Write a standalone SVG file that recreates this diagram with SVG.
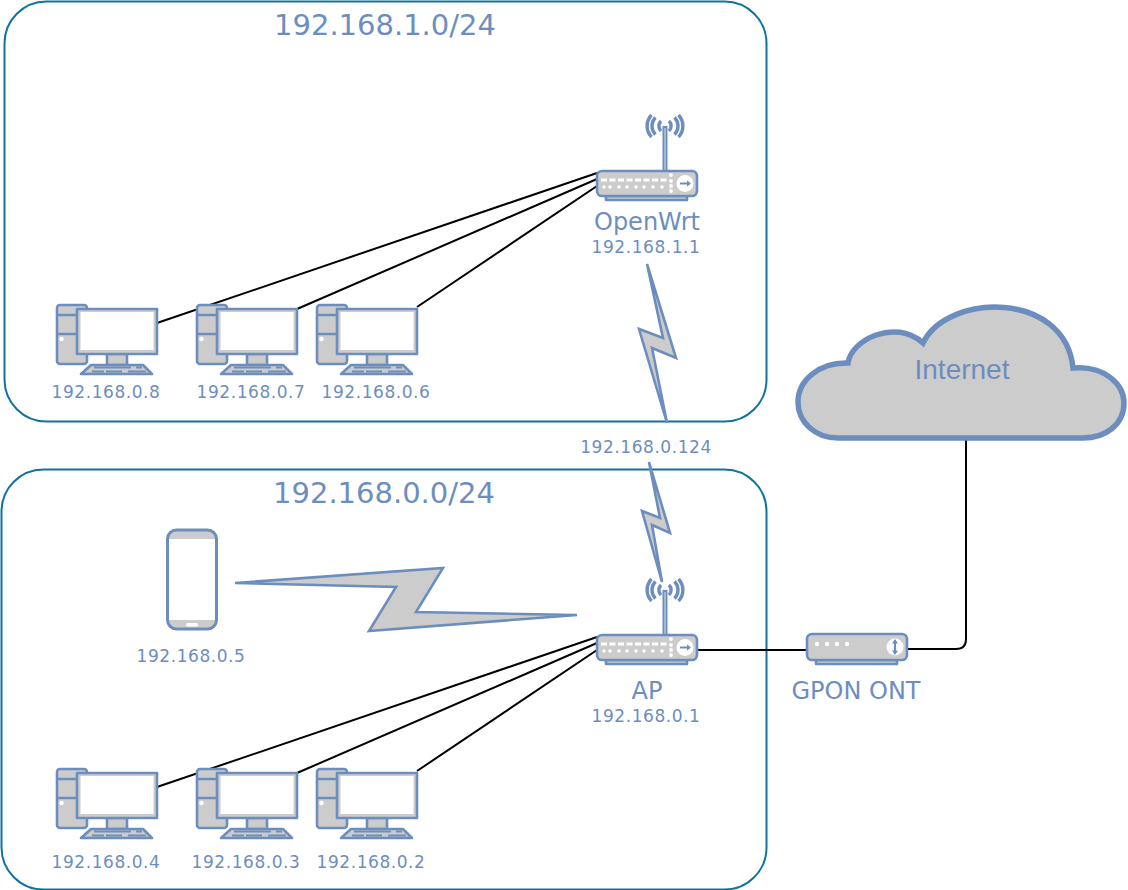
<svg xmlns="http://www.w3.org/2000/svg" width="1128" height="890" viewBox="0 0 1128 890">
<style>
text{fill:#6c8ebf;font-family:"DejaVu Sans",Verdana,sans-serif;text-anchor:middle}
.ip{font-size:17px;letter-spacing:.55px}
.title{font-size:29px}
.name{font-size:24px}
.zone{fill:#fff;stroke:#10739e;stroke-width:2}
.g{fill:#ccc;stroke:#6c8ebf;stroke-width:2.600;stroke-linejoin:round}
.w{fill:#fff;stroke:none}
.b{fill:none;stroke:#6c8ebf}
.bolt{fill:#ccc;stroke:#6c8ebf;stroke-width:2.600}
.wire{fill:none;stroke:#000;stroke-width:2}
</style>
<defs>
<g id="pc">
<rect class="g" x="57" y="305" width="30" height="59" rx="3"/>
<path class="b" stroke-width="2.500" d="M57 315H77M57 334H77"/>
<circle class="w" cx="61.500" cy="339" r="2.200"/>
<path class="g" d="M107 354h20v11h-20z"/>
<path class="g" d="M91 365h52l9 9H81z"/>
<path class="b" stroke-width="2.200" d="M94 367.500H131M136 367.500H142M92 371.500H104M106 371.500H122M128 371.500H146"/>
<rect class="g" x="77" y="309" width="80" height="45"/>
<rect x="79" y="311" width="76" height="41" fill="#ccc"/>
<rect class="w" x="80.500" y="312" width="73" height="38"/>
</g>
<g id="router">
<path class="g" d="M606 196h81v4h-81z"/>
<rect x="662.500" y="126" width="5" height="45" fill="#6c8ebf"/>
<rect x="664.300" y="128" width="1.400" height="43" fill="#b9c9e2"/>
<g class="b" stroke-width="3.400">
<path d="M661 121a7 7 0 0 0 0 10M669 121a7 7 0 0 1 0 10"/>
<path d="M655.500 117.500a12 12 0 0 0 0 17M674.500 117.500a12 12 0 0 1 0 17"/>
<path d="M651.500 115a16 16 0 0 0 0 22M678.500 115a16 16 0 0 1 0 22"/>
</g>
<rect class="g" x="597" y="171" width="100" height="25" rx="5"/>
<path d="M601 178.500h6v3h-6zM609.500 178.500h6v3h-6zM618 178.500h6v3h-6zM626.500 178.500h6v3h-6zM635 178.500h6v3h-6zM643.500 178.500h6v3h-6zM652 178.500h6v3h-6zM660.500 178.500h6v3h-6z" fill="#fff"/>
<g class="w">
<circle cx="604" cy="187" r="1.800"/><circle cx="610" cy="187" r="1.800"/><circle cx="619" cy="187" r="1.800"/><circle cx="627" cy="187" r="1.800"/><circle cx="636" cy="187" r="1.800"/><circle cx="644" cy="187" r="1.800"/><circle cx="653" cy="187" r="1.800"/><circle cx="662" cy="187" r="1.800"/>
<circle cx="671" cy="175" r="1.900"/><circle cx="671" cy="181" r="1.900"/><circle cx="671" cy="186" r="1.900"/><circle cx="671" cy="191" r="1.900"/>
<circle cx="685" cy="183.500" r="8.500"/>
</g>
<path d="M680 183.500h9" stroke="#6c8ebf" stroke-width="2"/>
<path d="M691 183.500l-4-3v6z" fill="#6c8ebf"/>
</g>
</defs>
<g id="zone-top">
<rect class="zone" x="4.500" y="1.500" width="762" height="420" rx="42"/>
<text class="title" x="385" y="35">192.168.1.0/24</text>
</g>
<g id="zone-bottom">
<rect class="zone" x="1.500" y="469.500" width="765" height="420" rx="42"/>
<text class="title" x="384" y="503">192.168.0.0/24</text>
</g>
<g id="connectors">
<path class="wire" d="M157 323L597 173M297 309L597 179M417 307L597 186"/>
<path class="wire" d="M157 787L597 637M297 773L597 643M417 771L597 650"/>
<path class="wire" d="M697 650H807"/>
<path class="wire" d="M907 649H956q10 0 10-10V440"/>
</g>
<g id="cloud">
<path d="M848 363C851 340 895 318 923 343C947 293 1065 290 1073 368C1105 365 1124 385 1124 403C1124 425 1105 438 1083 438H838C815 438 798 422 798 402C798 380 820 362 848 363Z" fill="#ccc" stroke="#6c8ebf" stroke-width="5.500"/>
<text x="962" y="379" style="font-family:'Liberation Sans',Arial,sans-serif;font-size:28px">Internet</text>
</g>
<g id="openwrt">
<use href="#router"/>
<text class="name" x="647" y="230">OpenWrt</text>
<text class="ip" x="646" y="253">192.168.1.1</text>
</g>
<g id="ap">
<use href="#router" y="464"/>
<text class="name" x="647" y="699">AP</text>
<text class="ip" x="646" y="722">192.168.0.1</text>
</g>
<g id="ont">
<path class="g" d="M816 660h81v4h-81z"/>
<rect class="g" x="807" y="634" width="100" height="26" rx="5"/>
<circle class="w" cx="817" cy="644" r="2.200"/><circle class="w" cx="827" cy="644" r="2.200"/><circle class="w" cx="837" cy="644" r="2.200"/><circle class="w" cx="847" cy="644" r="2.200"/>
<circle class="w" cx="895" cy="647" r="8.500"/>
<path d="M895 641v12" stroke="#6c8ebf" stroke-width="2"/>
<path d="M895 639l-3 4.500h6zM895 655l-3-4.500h6z" fill="#6c8ebf"/>
<text class="name" x="856" y="699">GPON ONT</text>
</g>
<g id="phone">
<rect x="167.500" y="530" width="49" height="99" rx="9" fill="#ccc" stroke="#6c8ebf" stroke-width="3"/>
<rect class="w" x="169" y="539" width="46" height="81"/>
<rect class="w" x="186" y="623" width="12" height="3.500" rx="1.700"/>
<text class="ip" x="191" y="662">192.168.0.5</text>
</g>
<g id="pc8"><use href="#pc"/><text class="ip" x="106" y="398">192.168.0.8</text></g>
<g id="pc7"><use href="#pc" x="140"/><text class="ip" x="251" y="398">192.168.0.7</text></g>
<g id="pc6"><use href="#pc" x="260"/><text class="ip" x="376" y="398">192.168.0.6</text></g>
<g id="pc4"><use href="#pc" y="464"/><text class="ip" x="106" y="868">192.168.0.4</text></g>
<g id="pc3"><use href="#pc" x="140" y="464"/><text class="ip" x="246" y="868">192.168.0.3</text></g>
<g id="pc2"><use href="#pc" x="260" y="464"/><text class="ip" x="371" y="868">192.168.0.2</text></g>
<g id="bridge-label"><text class="ip" x="646" y="453">192.168.0.124</text></g>
<g id="wireless">
<path class="bolt" d="M647 264L663 338L639 329L667 423L652 348L676 358Z"/>
<path class="bolt" d="M649 462L670 533L652 525L662 582L642 511L660 518Z"/>
<path class="bolt" d="M235 583L443 568L416 612L577 615L369 631L396 587Z"/>
</g>
</svg>
